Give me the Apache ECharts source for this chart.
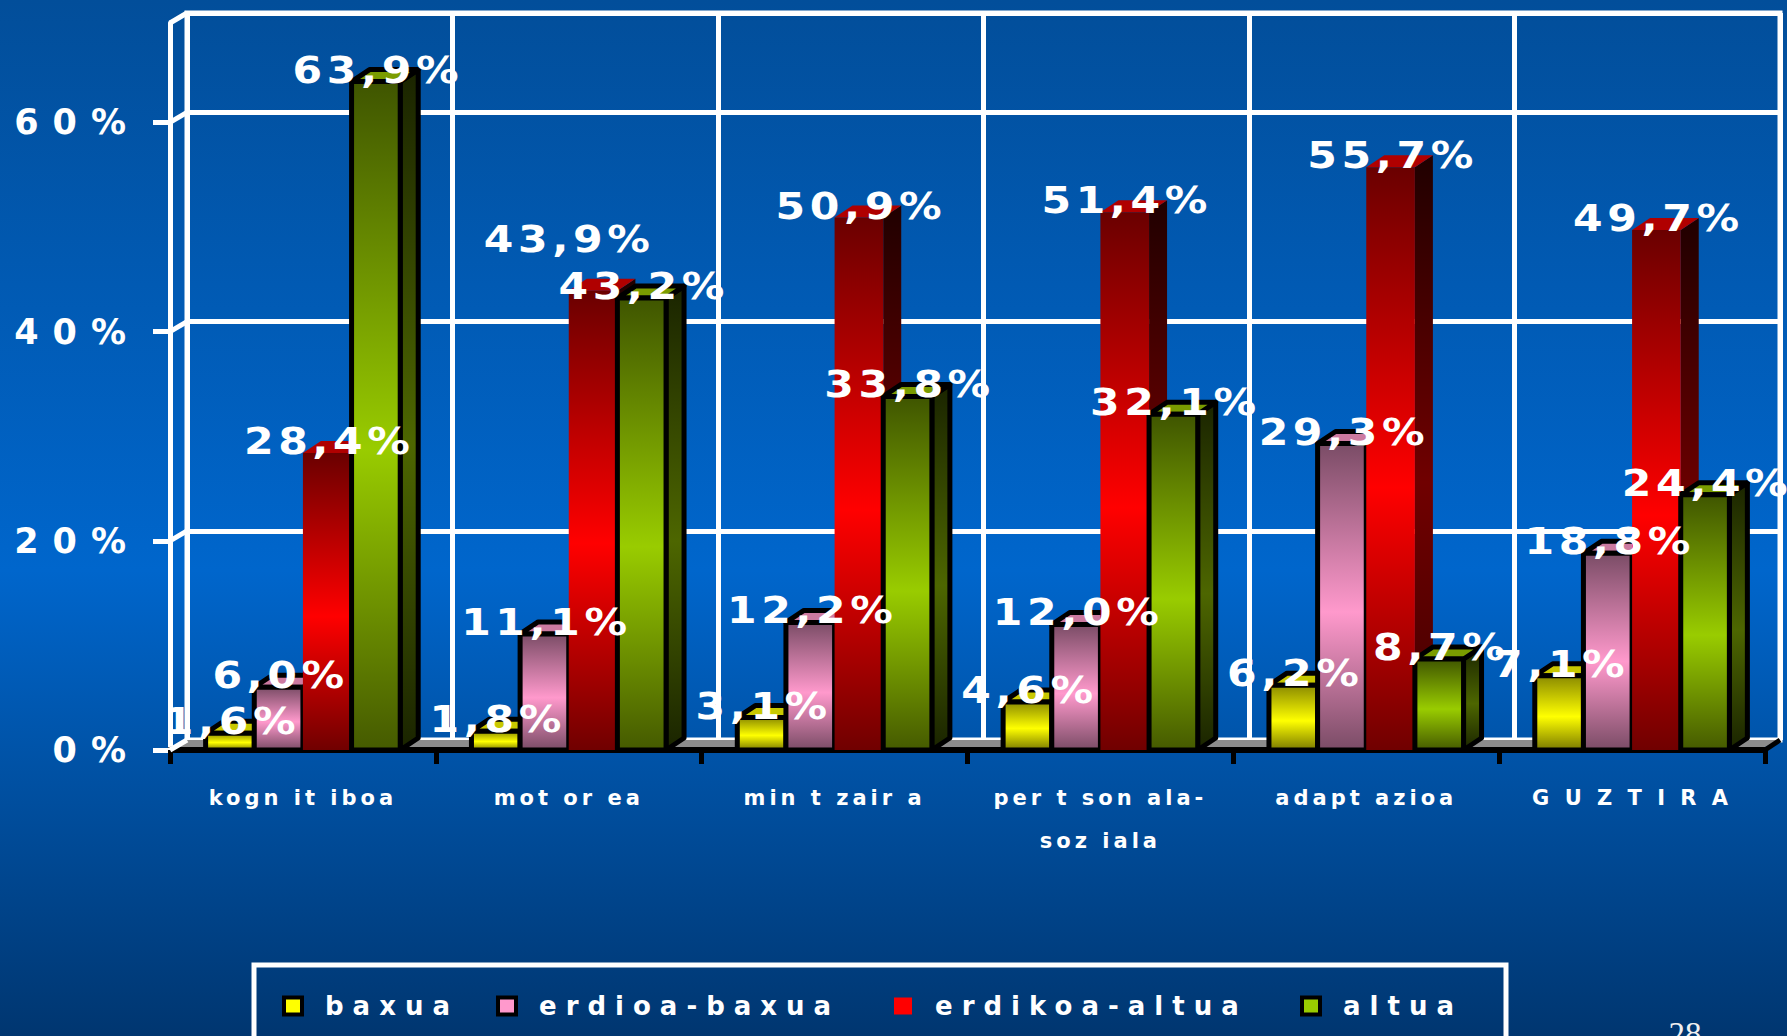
<!DOCTYPE html>
<html>
<head>
<meta charset="utf-8">
<script src="https://cdn.jsdelivr.net/npm/echarts@6/dist/echarts.min.js"></script>
<style>
  html, body { margin: 0; padding: 0; }
  #chart { width: 1787px; height: 1036px; }
  /* letter spacing for the wide, spaced-out labels of the slide */
  #chart text[style*="37px"] { letter-spacing: 4px; }
  #chart text[style*="35px"] { letter-spacing: 14px; }
  #chart text[style*="26px"] { letter-spacing: 9px; }
  #chart text[style*="21px"] { letter-spacing: 4px; }
</style>
</head>
<body>
<div id="chart"></div>
<script>
const categories = ['kogn it iboa', 'mot or ea', 'min t zair a', 'per t son ala-\nsoz iala', 'adapt azioa', 'G U Z T I R A'];
const seriesNames = ['baxua', 'erdioa-baxua', 'erdikoa-altua', 'altua'];
const baxua = [1.6, 1.8, 3.1, 4.6, 6.2, 7.1];
const erdioaBaxua = [6.0, 11.1, 12.2, 12.0, 29.3, 18.8];
const erdikoaAltua = [28.4, 43.9, 50.9, 51.4, 55.7, 49.7];
const altua = [63.9, 43.2, 33.8, 32.1, 8.7, 24.4];
const yMax = 69.5;
const yStep = 20;

// bar colours: front gradient (top, middle, bottom), top face, side gradient
const palette = [
  { front: ['#8a8a00', '#ffff00', '#7a7a00'], top: '#c8c800', side: ['#3a3a00', '#6a6a00', '#3a3a00'], stroke: true, legend: '#ffff00' },
  { front: ['#7a4c66', '#ff99cc', '#7a4c66'], top: '#cc7aa0', side: ['#4a2838', '#7a4a60', '#4a2838'], stroke: true, legend: '#ff99cc' },
  { front: ['#6a0000', '#ff0000', '#700000'], top: '#b00000', side: ['#200000', '#700000', '#400000'], stroke: false, legend: '#ff0000' },
  { front: ['#3f5500', '#99cc00', '#455a00'], top: '#7a9c00', side: ['#1a2400', '#4d6600', '#1a2400'], stroke: true, legend: '#99cc00' }
];
const values = [baxua, erdioaBaxua, erdikoaAltua, altua];

const DX = 18, DY = 12;
const BAR_RATIO = 0.183;

const fmt = v => v.toFixed(1).replace('.', ',') + '%';

function grad(stops) {
  return new echarts.graphic.LinearGradient(0, 0, 0, 1, [
    { offset: 0, color: stops[0] },
    { offset: 0.55, color: stops[1] },
    { offset: 1, color: stops[2] }
  ]);
}

function makeRenderer(s) {
  const pal = palette[s];
  return function (params, api) {
    const idx = api.value(0), val = api.value(1);
    const base = api.coord([idx, 0]);
    const top = api.coord([idx, val]);
    const band = api.size([1, 0])[0];
    const bw = band * BAR_RATIO;
    const x0 = base[0] - bw * 2 + s * bw;
    const x1 = x0 + bw;
    const y0 = top[1], y1 = base[1];
    const line = pal.stroke ? { stroke: '#000', lineWidth: 5, lineJoin: 'round' } : {};
    // lift a label when the next bar has almost the same height
    let lx = 0, ly = 0;
    if (s < 3 && Math.abs(values[s + 1][idx] - val) < 2) { lx = -26; ly = -40; }
    return {
      type: 'group',
      children: [
        { type: 'polygon', shape: { points: [[x1, y0], [x1 + DX, y0 - DY], [x1 + DX, y1 - DY], [x1, y1]] },
          style: Object.assign({ fill: grad(pal.side) }, line) },
        { type: 'polygon', shape: { points: [[x0, y0], [x0 + DX, y0 - DY], [x1 + DX, y0 - DY], [x1, y0]] },
          style: Object.assign({ fill: pal.top }, line) },
        { type: 'rect', shape: { x: x0, y: y0, width: bw, height: y1 - y0 },
          style: Object.assign({ fill: grad(pal.front) }, line) },
        { type: 'text', z2: 100, x: (x0 + x1) / 2 + lx + 2, y: y0 - 12 + ly, scaleX: 1.15,
          style: { text: fmt(val), x: 0, y: 0, align: 'center', verticalAlign: 'middle',
                   textAlign: 'center', textVerticalAlign: 'middle', fill: '#fff', font: 'bold 37px "DejaVu Sans"' } }
      ]
    };
  };
}

const legendLeft = [277, 491, 889, 1295];

const chart = echarts.init(document.getElementById('chart'), null, { renderer: 'svg' });
chart.setOption({
  animation: false,
  backgroundColor: {
    type: 'linear', x: 0, y: 0, x2: 0, y2: 1,
    colorStops: [
      { offset: 0, color: '#024e9a' },
      { offset: 0.55, color: '#0066cc' },
      { offset: 1, color: '#003670' }
    ]
  },
  grid: [
    // back wall
    { left: 187, top: 13, width: 1593, height: 727, show: true, borderColor: '#fff', borderWidth: 5, backgroundColor: 'transparent' },
    // front plane
    { left: 170, top: 23, width: 1595, height: 727 }
  ],
  xAxis: [
    { type: 'category', gridIndex: 0, data: categories,
      axisLine: { show: false }, axisTick: { show: false }, axisLabel: { show: false },
      splitLine: { show: true, lineStyle: { color: '#fff', width: 5 } } },
    { type: 'category', gridIndex: 1, data: categories,
      axisLine: { show: true, lineStyle: { color: '#000', width: 6 } },
      axisTick: { show: true, length: 14, lineStyle: { color: '#000', width: 5 } },
      axisLabel: { interval: 0, color: '#fff', fontSize: 21, fontWeight: 'bold', fontFamily: 'DejaVu Sans',
                   lineHeight: 43, margin: 26 },
      splitLine: { show: false } }
  ],
  yAxis: [
    { type: 'value', gridIndex: 0, min: 0, max: yMax, interval: yStep,
      axisLine: { show: false }, axisTick: { show: false }, axisLabel: { show: false },
      splitLine: { show: true, lineStyle: { color: '#fff', width: 5 } } },
    { type: 'value', gridIndex: 1, min: 0, max: yMax, interval: yStep,
      axisLine: { show: true, lineStyle: { color: '#fff', width: 5 } },
      axisTick: { show: true, length: 17, lineStyle: { color: '#fff', width: 5 } },
      axisLabel: { color: '#fff', fontSize: 35, fontWeight: 'bold', fontFamily: 'DejaVu Sans', margin: 30,
                   showMaxLabel: false, formatter: v => (v % yStep === 0 ? v + '%' : '') },
      splitLine: { show: false } }
  ],
  legend: seriesNames.map((name, i) => ({
    data: [name],
    left: legendLeft[i],
    top: 988,
    selectedMode: false,
    icon: 'rect',
    itemWidth: 18,
    itemHeight: 17,
    itemStyle: palette[i].stroke ? { borderColor: '#000', borderWidth: 4 } : { borderWidth: 0 },
    textStyle: { color: '#fff', fontSize: 26, fontWeight: 'bold', fontFamily: 'DejaVu Sans', padding: [0, 0, 0, 18] }
  })),
  series: seriesNames.map((name, s) => ({
    name: name,
    type: 'custom',
    coordinateSystem: 'cartesian2d',
    xAxisIndex: 1,
    yAxisIndex: 1,
    itemStyle: { color: palette[s].legend },
    encode: { x: 0, y: 1 },
    data: values[s].map((v, i) => [i, v]),
    renderItem: makeRenderer(s)
  }))
});

// frame decoration: floor, left-wall links, legend box, page number
const gridFront = chart.getModel().getComponent('grid', 1).coordinateSystem.getRect();
const gridBack = chart.getModel().getComponent('grid', 0).coordinateSystem.getRect();
const wallLinks = [0, 20, 40, 60].map(v => {
  const yf = chart.convertToPixel({ yAxisIndex: 1 }, v);
  const yb = chart.convertToPixel({ yAxisIndex: 0 }, v);
  return { type: 'line', z: 1, shape: { x1: gridFront.x, y1: yf, x2: gridBack.x, y2: yb }, style: { stroke: '#fff', lineWidth: 5 } };
});
const fb = gridFront.y + gridFront.height, bb = gridBack.y + gridBack.height;
chart.setOption({
  graphic: [
    { type: 'polygon', z: 1, shape: { points: [[gridFront.x, fb - 3], [gridBack.x, bb], [gridBack.x + gridBack.width, bb], [gridFront.x + gridFront.width, fb - 3]] },
      style: { fill: '#8c8c8c' } },
    { type: 'line', z: 1, shape: { x1: gridFront.x, y1: gridFront.y, x2: gridBack.x, y2: gridBack.y }, style: { stroke: '#fff', lineWidth: 5 } },
    { type: 'line', z: 1, shape: { x1: gridFront.x + gridFront.width, y1: fb, x2: gridBack.x + gridBack.width, y2: bb }, style: { stroke: '#000', lineWidth: 5 } },
    ...wallLinks,
    { type: 'rect', shape: { x: 254, y: 965, width: 1252, height: 120 }, style: { fill: 'none', stroke: '#fff', lineWidth: 5 } },
    { type: 'text', style: { text: '28', x: 1685, y: 1034, align: 'center', verticalAlign: 'middle',
                             textAlign: 'center', textVerticalAlign: 'middle', fill: '#f0f0f0', font: '33px "Liberation Serif"' } }
  ]
});
</script>
</body>
</html>
